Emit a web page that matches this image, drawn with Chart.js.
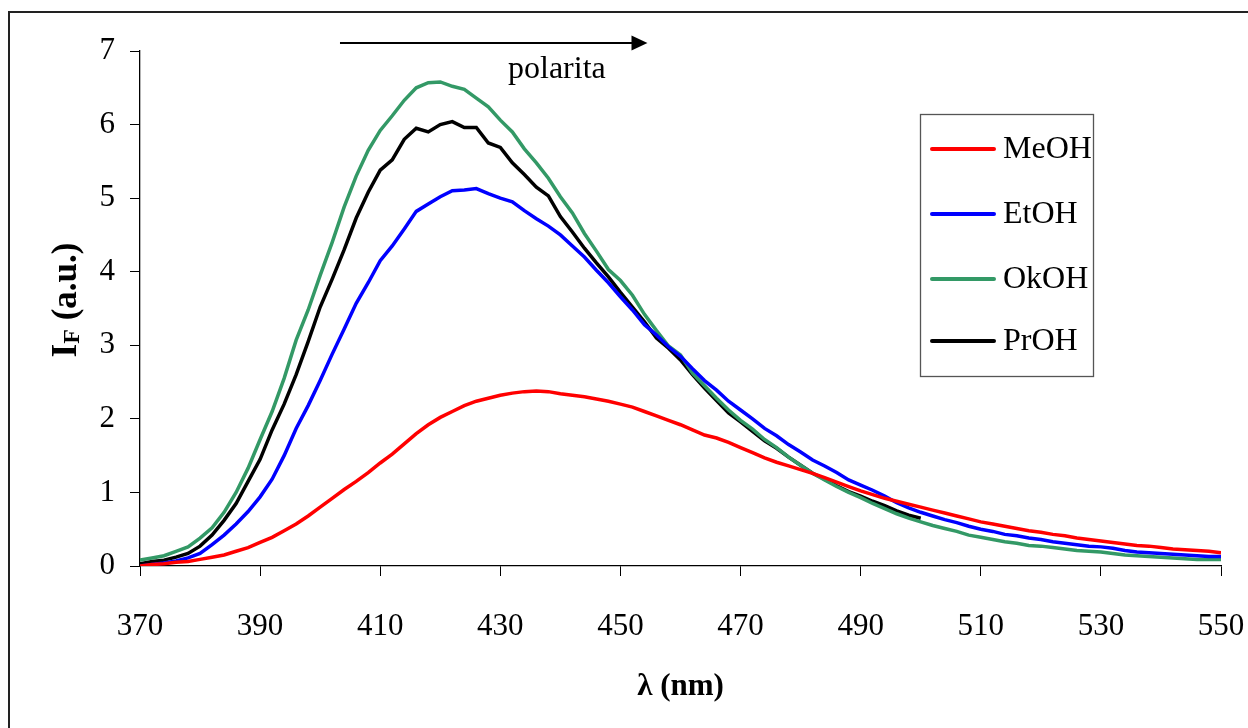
<!DOCTYPE html>
<html>
<head>
<meta charset="utf-8">
<script src="https://cdn.jsdelivr.net/npm/chart.js@4/dist/chart.umd.min.js"></script>
<style>
html,body{margin:0;padding:0;background:#fff;}
#wrap{width:1248px;height:728px;position:relative;}
</style>
</head>
<body>
<div id="wrap"><canvas id="c" width="1248" height="728"></canvas></div>
<script>
// wavelengths (nm)
const wavelengths = [370,372,374,376,378,380,382,384,386,388,390,392,394,396,398,400,402,404,406,408,410,412,414,416,418,420,422,424,426,428,430,432,434,436,438,440,442,444,446,448,450,452,454,456,458,460,462,464,466,468,470,472,474,476,478,480,482,484,486,488,490,492,494,496,498,500,502,504,506,508,510,512,514,516,518,520,522,524,526,528,530,532,534,536,538,540,542,544,546,548,550];

const seriesNames = ["MeOH","EtOH","OkOH","PrOH"];

const meoh = [0.00,0.02,0.03,0.05,0.06,0.09,0.12,0.15,0.20,0.25,0.32,0.39,0.48,0.57,0.68,0.80,0.92,1.04,1.15,1.27,1.40,1.52,1.66,1.80,1.92,2.02,2.10,2.18,2.24,2.28,2.32,2.35,2.37,2.38,2.37,2.34,2.32,2.30,2.27,2.24,2.20,2.16,2.10,2.04,1.98,1.92,1.85,1.78,1.74,1.68,1.61,1.54,1.47,1.41,1.36,1.31,1.26,1.20,1.14,1.08,1.02,0.97,0.92,0.88,0.84,0.80,0.76,0.72,0.68,0.64,0.60,0.57,0.54,0.51,0.48,0.46,0.43,0.41,0.38,0.36,0.34,0.32,0.30,0.28,0.27,0.25,0.23,0.22,0.21,0.20,0.18];

const etoh = [0.00,0.02,0.04,0.07,0.11,0.17,0.29,0.42,0.57,0.74,0.94,1.18,1.50,1.87,2.18,2.52,2.88,3.22,3.57,3.85,4.15,4.35,4.58,4.82,4.92,5.02,5.10,5.11,5.13,5.06,5.00,4.95,4.83,4.72,4.62,4.50,4.35,4.20,4.02,3.85,3.66,3.48,3.28,3.14,2.98,2.85,2.68,2.52,2.39,2.24,2.12,2.00,1.87,1.77,1.65,1.55,1.44,1.36,1.27,1.17,1.10,1.03,0.95,0.86,0.79,0.73,0.68,0.63,0.59,0.54,0.50,0.47,0.43,0.41,0.38,0.36,0.33,0.31,0.29,0.27,0.26,0.24,0.21,0.19,0.18,0.17,0.16,0.15,0.14,0.13,0.13];

const okoh = [0.08,0.11,0.14,0.20,0.26,0.38,0.52,0.73,1.00,1.33,1.72,2.10,2.55,3.07,3.48,3.95,4.40,4.88,5.30,5.65,5.92,6.12,6.33,6.50,6.57,6.58,6.52,6.48,6.36,6.24,6.06,5.90,5.67,5.48,5.27,5.02,4.80,4.52,4.28,4.03,3.88,3.68,3.42,3.20,2.99,2.87,2.62,2.45,2.28,2.12,1.98,1.86,1.72,1.61,1.48,1.37,1.26,1.17,1.08,1.00,0.93,0.85,0.78,0.71,0.65,0.60,0.55,0.51,0.47,0.42,0.39,0.36,0.33,0.31,0.28,0.27,0.25,0.23,0.21,0.20,0.19,0.17,0.15,0.14,0.13,0.12,0.11,0.10,0.09,0.09,0.09];

// PrOH measured only up to 500 nm
const proh = [0.03,0.06,0.08,0.12,0.17,0.27,0.42,0.62,0.85,1.15,1.45,1.85,2.20,2.60,3.05,3.52,3.90,4.30,4.73,5.08,5.38,5.52,5.80,5.95,5.90,6.00,6.04,5.96,5.96,5.75,5.69,5.48,5.32,5.15,5.03,4.75,4.54,4.32,4.12,3.93,3.72,3.52,3.32,3.10,2.96,2.80,2.60,2.42,2.25,2.08,1.96,1.83,1.70,1.60,1.48,1.37,1.26,1.18,1.09,1.01,0.95,0.88,0.82,0.75,0.69,0.65];

const xTicks = [370,390,410,430,450,470,490,510,530,550];
const yTicks = [0,1,2,3,4,5,6,7];

const colors = ["#FF0000","#0000FF","#339966","#000000"];
const SERIF = '"Liberation Serif","Times New Roman",serif';

function pts(vals){ return vals.map((v,i)=>({x:wavelengths[i], y:v})); }

const allSeries = [meoh, etoh, okoh, proh];

const datasets = allSeries.map((vals,i)=>({
  label: seriesNames[i],
  data: pts(vals),
  borderColor: colors[i],
  backgroundColor: colors[i],
  borderWidth: 3.5,
  pointRadius: 0,
  tension: 0,
  fill: false
}));

const framePlugin = {
  id:'frame',
  beforeDraw(chart){
    const ctx = chart.ctx;
    ctx.save();
    ctx.fillStyle='#fff';
    ctx.fillRect(0,0,chart.width,chart.height);
    ctx.strokeStyle='#222';
    ctx.lineWidth=2;
    ctx.beginPath();
    ctx.moveTo(9,728); ctx.lineTo(9,12); ctx.lineTo(1248,12);
    ctx.stroke();
    ctx.restore();
  }
};

const extrasPlugin = {
  id:'extras',
  afterDraw(chart){
    const ctx = chart.ctx;
    const xs = chart.scales.x, ys = chart.scales.y;
    const ca = chart.chartArea;
    ctx.save();
    // x title
    ctx.fillStyle='#000';
    ctx.font = 'bold 31px '+SERIF;
    ctx.textAlign='center';
    ctx.textBaseline='alphabetic';
    ctx.fillText('λ (nm)', (ca.left+ca.right)/2, 695);
    // y title with subscript
    ctx.save();
    ctx.translate(76, 300);
    ctx.rotate(-Math.PI/2);
    const big = 'bold 35px '+SERIF, small = 'bold 24px '+SERIF;
    ctx.font = big; const wI = ctx.measureText('I').width;
    ctx.font = small; const wF = ctx.measureText('F').width;
    ctx.font = big; const wR = ctx.measureText(' (a.u.)').width;
    let x0 = -(wI+wF+wR)/2;
    ctx.textAlign='left';
    ctx.font = big; ctx.fillText('I', x0, 0);
    ctx.font = small; ctx.fillText('F', x0+wI, 3);
    ctx.font = big; ctx.fillText(' (a.u.)', x0+wI+wF, 0);
    ctx.restore();
    // polarity arrow
    const ax1 = xs.getPixelForValue(403.3), ax2 = xs.getPixelForValue(454.5);
    const ay = ys.getPixelForValue(7.11);
    ctx.strokeStyle='#000'; ctx.lineWidth=2;
    ctx.beginPath(); ctx.moveTo(ax1, ay); ctx.lineTo(ax2-14, ay); ctx.stroke();
    ctx.beginPath(); ctx.moveTo(ax2, ay); ctx.lineTo(ax2-16, ay-7.5); ctx.lineTo(ax2-16, ay+7.5); ctx.closePath(); ctx.fill();
    ctx.font = '32px '+SERIF; ctx.textAlign='left'; ctx.textBaseline='alphabetic';
    ctx.fillText('polarita', 508, 78);
    // legend
    const lx=920.5, ly=114.5, lw=173, lh=262;
    ctx.fillStyle='#fff'; ctx.fillRect(lx,ly,lw,lh);
    ctx.strokeStyle='#555'; ctx.lineWidth=1.3; ctx.strokeRect(lx,ly,lw,lh);
    const rows=[149,214,279,341];
    chart.data.datasets.forEach((d,i)=>{
      ctx.strokeStyle=d.borderColor; ctx.lineWidth=4; ctx.lineCap='round';
      ctx.beginPath(); ctx.moveTo(932, rows[i]); ctx.lineTo(994, rows[i]); ctx.stroke();
      ctx.fillStyle='#000'; ctx.font='32px '+SERIF; ctx.textBaseline='middle'; ctx.textAlign='left';
      ctx.fillText(d.label, 1003, rows[i]+1);
    });
    ctx.restore();
  }
};

new Chart(document.getElementById('c'), {
  type:'line',
  data:{ datasets },
  options:{
    responsive:false,
    animation:false,
    layout:{ padding:{ left:0, top:51, right:27, bottom:0 } },
    plugins:{ legend:{display:false}, tooltip:{enabled:false} },
    scales:{
      x:{
        type:'linear', min:370, max:550,
        afterBuildTicks(s){ s.ticks = xTicks.map(v=>({value:v})); },
        afterFit(s){ s.height = 162; s.paddingLeft = 0; s.paddingRight = 0; },
        grid:{ drawOnChartArea:false, drawTicks:true, tickLength:10, color:'#000' },
        border:{ display:true, color:'#000', width:1.3 },
        ticks:{ color:'#000', font:{family:SERIF, size:31}, padding:32, maxRotation:0 }
      },
      y:{
        type:'linear', min:0, max:7,
        afterBuildTicks(s){ s.ticks = yTicks.map(v=>({value:v})); },
        afterFit(s){ s.width = 140; s.paddingTop = 0; s.paddingBottom = 0; },
        grid:{ drawOnChartArea:false, drawTicks:true, tickLength:10, color:'#000' },
        border:{ display:true, color:'#000', width:1.3 },
        ticks:{ color:'#000', font:{family:SERIF, size:31}, padding:15 }
      }
    }
  },
  plugins:[framePlugin, extrasPlugin]
});
</script>
</body>
</html>
